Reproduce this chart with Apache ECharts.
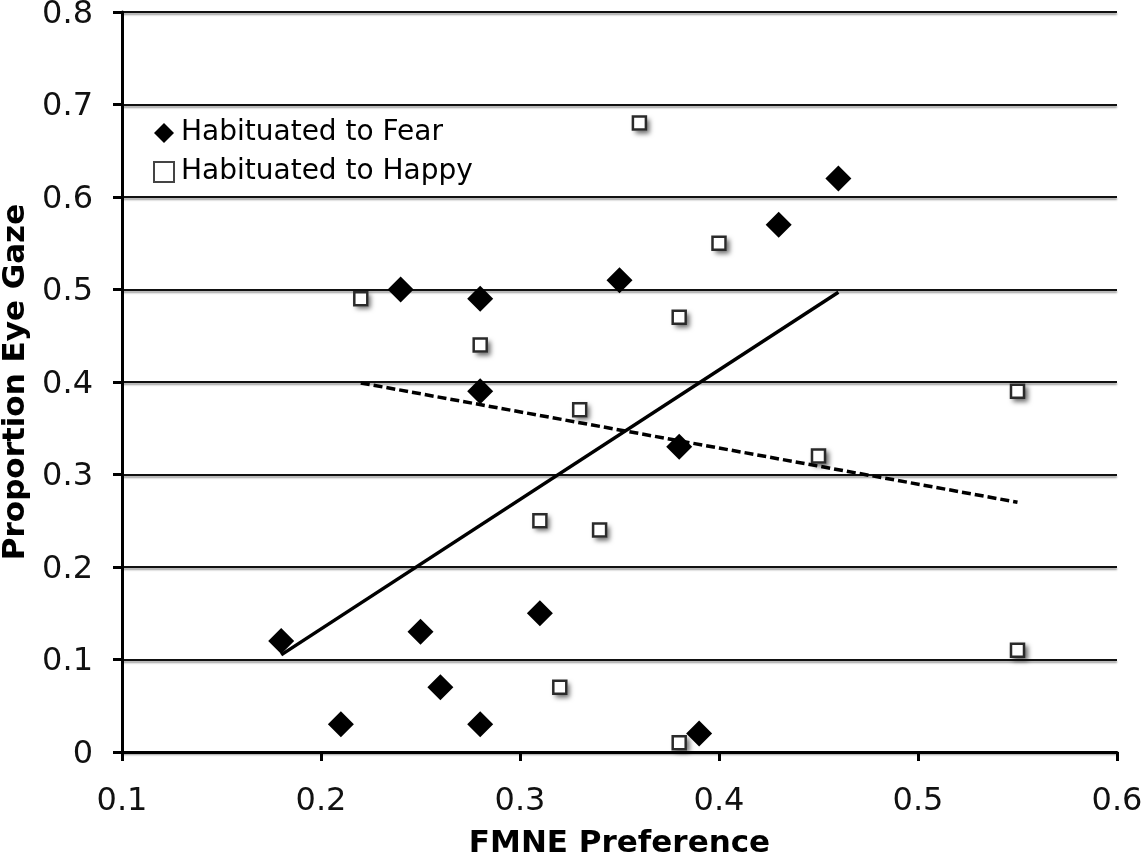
<!DOCTYPE html>
<html>
<head>
<meta charset="utf-8">
<script src="https://cdn.jsdelivr.net/npm/echarts@6/dist/echarts.min.js"></script>
<style>html,body{margin:0;padding:0;background:#fff;}#c{width:1144px;height:857px;}</style>
</head>
<body>
<div id="c"></div>
<script>
// Data
const fearX = [0.18, 0.21, 0.24, 0.25, 0.26, 0.28, 0.28, 0.28, 0.31, 0.35, 0.38, 0.39, 0.43, 0.46];
const fearY = [0.12, 0.03, 0.50, 0.13, 0.07, 0.49, 0.39, 0.03, 0.15, 0.51, 0.33, 0.02, 0.57, 0.62];
const happyX = [0.22, 0.28, 0.31, 0.32, 0.33, 0.34, 0.36, 0.38, 0.38, 0.40, 0.45, 0.55, 0.55];
const happyY = [0.49, 0.44, 0.25, 0.07, 0.37, 0.24, 0.68, 0.47, 0.01, 0.55, 0.32, 0.39, 0.11];
// Trend line end points
const fearTrendX = [0.18, 0.46];
const fearTrendY = [0.105, 0.497];
const happyTrendX = [0.22, 0.55];
const happyTrendY = [0.399, 0.270];
const xTicks = [0.1, 0.2, 0.3, 0.4, 0.5, 0.6];
const yTicks = [0, 0.1, 0.2, 0.3, 0.4, 0.5, 0.6, 0.7, 0.8];
const seriesNames = ['Habituated to Fear', 'Habituated to Happy'];
const xTitle = 'FMNE Preference';
const yTitle = 'Proportion Eye Gaze';

const zip = (a, b) => a.map((v, i) => [v, b[i]]);
const FONT = '"DejaVu Sans", Verdana, sans-serif';

const chart = echarts.init(document.getElementById('c'));
chart.setOption({
  animation: false,
  backgroundColor: '#fff',
  grid: { left: 122, right: 27, top: 12, bottom: 105, containLabel: false, outerBoundsMode: 'none' },
  legend: {
    data: [
      { name: seriesNames[0], icon: 'diamond', itemStyle: { color: '#000', opacity: 1 } },
      { name: seriesNames[1], icon: 'path://M2,2 L14,2 L14,14 L2,14 Z', itemStyle: { color: '#fff', borderColor: '#444', borderWidth: 2, opacity: 1, shadowBlur: 0 } }
    ],
    orient: 'vertical',
    left: 148,
    top: 114,
    itemWidth: 20,
    itemHeight: 20,
    itemGap: 11,
    textStyle: { fontFamily: FONT, fontSize: 28, color: '#000', padding: [0, 0, 0, 2] }
  },
  xAxis: {
    type: 'value',
    min: 0.1, max: 0.6, interval: 0.1,
    name: xTitle,
    nameLocation: 'middle',
    nameGap: 76,
    nameTextStyle: { fontFamily: FONT, fontSize: 31, fontWeight: 'bold', color: '#000' },
    axisLine: { show: true, onZero: false, lineStyle: { color: '#000', width: 3 } },
    axisTick: { show: true, length: 9, lineStyle: { color: '#000', width: 3 } },
    axisLabel: { fontFamily: FONT, fontSize: 32, color: '#111', margin: 34,
      formatter: v => { const t = xTicks.find(k => Math.abs(k - v) < 1e-9); return t === undefined ? '' : String(t); } },
    splitLine: { show: false }
  },
  yAxis: {
    type: 'value',
    min: 0, max: 0.8, interval: 0.1,
    name: yTitle,
    nameLocation: 'middle',
    nameGap: 90,
    nameRotate: 90,
    nameTextStyle: { fontFamily: FONT, fontSize: 31, fontWeight: 'bold', color: '#000' },
    axisLine: { show: true, lineStyle: { color: '#000', width: 3 } },
    axisTick: { show: true, length: 9, lineStyle: { color: '#000', width: 3 } },
    axisLabel: { margin: 29,
      formatter: v => { const t = yTicks.find(k => Math.abs(k - v) < 1e-9); return t === undefined ? '' : '{t|' + t + '}'; },
      rich: { t: { fontFamily: FONT, fontSize: 32, color: '#111', padding: [5, 0, 0, 0] } } },
    splitLine: { show: true, lineStyle: { color: '#111', width: 2, shadowColor: 'rgba(0,0,0,0.4)', shadowBlur: 2, shadowOffsetY: 2 } }
  },
  series: [
    {
      name: seriesNames[0], type: 'scatter', symbol: 'diamond', symbolSize: [26, 26],
      itemStyle: { color: '#000', opacity: 1 }, z: 3,
      data: zip(fearX, fearY)
    },
    {
      // drop shadow under the open squares
      name: 'happyShadow', type: 'scatter', symbol: 'rect', symbolSize: [15, 15], silent: true,
      itemStyle: { color: '#fff', opacity: 1,
        shadowColor: 'rgba(0,0,0,0.6)', shadowBlur: 5, shadowOffsetX: 3, shadowOffsetY: 3 },
      z: 2,
      data: zip(happyX, happyY)
    },
    {
      name: seriesNames[1], type: 'scatter', symbol: 'rect', symbolSize: [13, 13],
      itemStyle: { color: '#fff', opacity: 1, borderColor: '#2a2a2a', borderWidth: 2.5 },
      z: 3,
      data: zip(happyX, happyY)
    },
    {
      name: 'fearTrend', type: 'line', showSymbol: false, symbol: 'none', silent: true, z: 4,
      lineStyle: { color: '#000', width: 3.5, type: 'solid' },
      data: zip(fearTrendX, fearTrendY)
    },
    {
      name: 'happyTrend', type: 'line', showSymbol: false, symbol: 'none', silent: true, z: 4,
      lineStyle: { color: '#000', width: 3.5, type: [9, 4] },
      data: zip(happyTrendX, happyTrendY)
    }
  ]
});
</script>
</body>
</html>
